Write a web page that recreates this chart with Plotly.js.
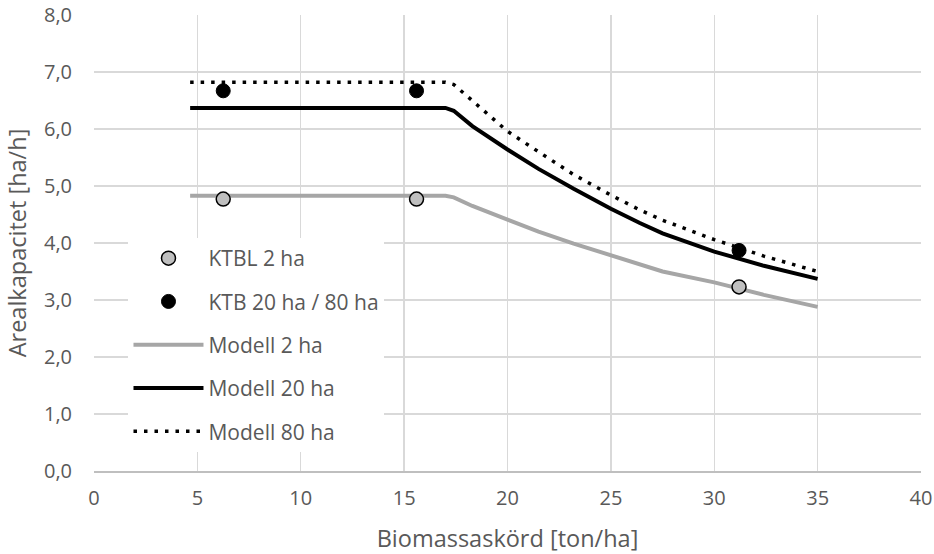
<!DOCTYPE html>
<html>
<head>
<meta charset="utf-8">
<script src="https://cdn.plot.ly/plotly-3.0.1.min.js"></script>
<style>
  html, body { margin: 0; padding: 0; background: #fff; }
  #chart { width: 934px; height: 554px; }
</style>
</head>
<body>
<div id="chart"></div>
<script>
// Biomass yield [ton/ha] on the x axis
const modelYield = [4.65, 17.0, 17.4, 18.3, 20.0, 21.5, 23.2, 25.0, 26.4, 27.5, 30.0, 32.4, 35.0];
// Model area capacity [ha/h] per field size
const model2ha  = [4.83, 4.83, 4.80, 4.65, 4.41, 4.20, 3.99, 3.79, 3.62, 3.50, 3.31, 3.09, 2.88];
const model20ha = [6.37, 6.37, 6.32, 6.05, 5.64, 5.30, 4.95, 4.60, 4.35, 4.17, 3.85, 3.60, 3.37];
const model80ha = [6.82, 6.82, 6.78, 6.50, 5.96, 5.60, 5.20, 4.84, 4.58, 4.40, 4.06, 3.77, 3.50];

// KTBL reference values
const ktblYield = [6.25, 15.6, 31.2];
const ktbl2ha   = [4.77, 4.77, 3.23];
const ktbl20ha  = [6.67, 6.67, 3.87];

const xTicks = [0, 5, 10, 15, 20, 25, 30, 35, 40];
const yTicks = [0, 1, 2, 3, 4, 5, 6, 7, 8];
const yTickText = yTicks.map(v => v.toFixed(1).replace('.', ','));

const FONT = '"Open Sans", Lato, sans-serif';
const TXT = '#595959';

const markers2ha = {
  x: ktblYield, y: ktbl2ha, name: 'KTBL 2 ha', legendgroup: 'a', legendrank: 1,
  mode: 'markers', type: 'scatter',
  marker: { size: 14, color: '#bfbfbf', line: { color: '#000', width: 1.5 } }
};
const markers20ha = {
  x: ktblYield, y: ktbl20ha, name: 'KTB 20 ha / 80 ha', legendgroup: 'b', legendrank: 2,
  mode: 'markers', type: 'scatter',
  marker: { size: 14, color: '#000', line: { color: '#000', width: 1 } }
};
const line2ha = {
  x: modelYield, y: model2ha, name: 'Modell 2 ha', legendgroup: 'c', legendrank: 3,
  mode: 'lines', type: 'scatter',
  line: { color: '#a6a6a6', width: 4, shape: 'linear' }
};
const line20ha = {
  x: modelYield, y: model20ha, name: 'Modell 20 ha', legendgroup: 'd', legendrank: 4,
  mode: 'lines', type: 'scatter',
  line: { color: '#000', width: 4, shape: 'linear' }
};
const line80ha = {
  x: modelYield, y: model80ha, name: 'Modell 80 ha', legendgroup: 'e', legendrank: 5,
  mode: 'lines', type: 'scatter',
  line: { color: '#000', width: 3.5, dash: '3.5px,7px', shape: 'linear' }
};

// Model lines are drawn first so the markers sit on top of them
const data = [line2ha, line20ha, line80ha, markers2ha, markers20ha];

const layout = {
  width: 934, height: 554,
  margin: { l: 94, r: 13, t: 15, b: 83 },
  paper_bgcolor: '#fff', plot_bgcolor: '#fff',
  font: { family: FONT, color: TXT, size: 20 },
  showlegend: true,
  legend: {
    x: 0.0417, y: 0.511, xanchor: 'left', yanchor: 'top',
    bgcolor: '#fff', borderwidth: 0,
    traceorder: 'grouped', tracegroupgap: 13,
    itemwidth: 70,
    font: { family: FONT, color: TXT, size: 21 }
  },
  xaxis: {
    range: [0, 40], tickvals: xTicks, ticktext: xTicks.map(String),
    showgrid: true, gridcolor: '#d9d9d9', gridwidth: 1.3,
    zeroline: false, showline: true, linecolor: '#bfbfbf', linewidth: 1.5,
    ticks: '', ticklabelstandoff: 8,
    tickfont: { family: FONT, color: TXT, size: 20 },
    title: { text: 'Biomassaskörd [ton/ha]', font: { family: FONT, color: TXT, size: 23.5 }, standoff: 22 }
  },
  yaxis: {
    range: [0, 8], tickvals: yTicks, ticktext: yTickText,
    showgrid: true, gridcolor: '#d9d9d9', gridwidth: 1.3,
    zeroline: false, showline: false,
    ticks: '', ticklabelstandoff: 21,
    tickfont: { family: FONT, color: TXT, size: 20 },
    title: { text: 'Arealkapacitet [ha/h]', font: { family: FONT, color: TXT, size: 23.5 }, standoff: 10 }
  }
};

Plotly.newPlot('chart', data, layout, { staticPlot: true, displayModeBar: false });
</script>
</body>
</html>
